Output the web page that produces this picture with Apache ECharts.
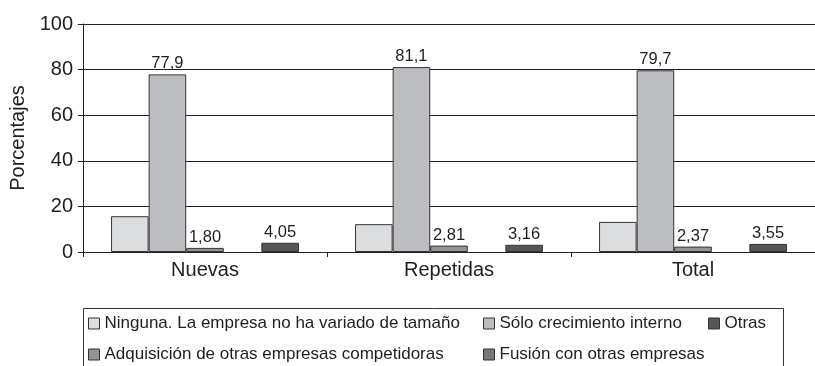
<!DOCTYPE html>
<html>
<head>
<meta charset="utf-8">
<script src="https://cdn.jsdelivr.net/npm/echarts@6/dist/echarts.min.js"></script>
<style>
  html, body { margin: 0; padding: 0; background: #fff; }
  #chart { width: 815px; height: 366px; }
</style>
</head>
<body>
<div id="chart"></div>
<script>
// Categories and series values (percentages)
const categories = ['Nuevas', 'Repetidas', 'Total'];
const ninguna = [15.7, 12.2, 13.2];
const soloCrecimiento = [77.9, 81.1, 79.7];
const adquisicion = [1.80, 2.81, 2.37];
const fusion = [null, null, null];
const otras = [4.05, 3.16, 3.55];
const yTicks = [0, 20, 40, 60, 80, 100];

const names = {
  ninguna: 'Ninguna. La empresa no ha variado de tamaño',
  solo: 'Sólo crecimiento interno',
  adq: 'Adquisición de otras empresas competidoras',
  fusion: 'Fusión con otras empresas',
  otras: 'Otras'
};

const font = '"Liberation Sans", Arial, sans-serif';

function labelFor(digits) {
  return {
    show: true,
    position: 'top',
    distance: 2,
    color: '#1e1e1e',
    fontFamily: font,
    fontSize: 16.5,
    formatter: p => p.value == null ? '' : Number(p.value).toFixed(digits).replace('.', ',')
  };
}

function barSeries(name, data, color, label) {
  return {
    name: name,
    type: 'bar',
    data: data,
    barGap: '0%',
    barCategoryGap: '23%',
    itemStyle: { color: color, borderColor: '#333', borderWidth: 1 },
    label: label || { show: false },
    emphasis: { disabled: true }
  };
}

function legendAt(name, left, top) {
  return {
    data: [name],
    left: left,
    top: top,
    padding: 0,
    itemWidth: 11,
    itemHeight: 11,
    itemGap: 0,
    icon: 'rect',
    itemStyle: { borderColor: '#333', borderWidth: 1 },
    textStyle: { color: '#1e1e1e', fontFamily: font, fontSize: 17, padding: [0, 0, 0, 0] },
    selectedMode: false
  };
}

const chart = echarts.init(document.getElementById('chart'), null, { renderer: 'canvas' });
chart.setOption({
  backgroundColor: '#fff',
  animation: false,
  grid: { left: 83, top: 24, width: 744, height: 228, containLabel: false },
  xAxis: {
    type: 'category',
    data: categories,
    axisLine: { lineStyle: { color: '#222', width: 1 } },
    axisTick: { show: true, length: 5, lineStyle: { color: '#222' } },
    axisLabel: { color: '#1e1e1e', fontFamily: font, fontSize: 20, margin: 8 }
  },
  yAxis: {
    type: 'value',
    min: yTicks[0],
    max: yTicks[yTicks.length - 1],
    interval: yTicks[1] - yTicks[0],
    name: 'Porcentajes',
    nameLocation: 'middle',
    nameGap: 53,
    nameRotate: 90,
    nameTextStyle: { color: '#1e1e1e', fontFamily: font, fontSize: 20 },
    axisLine: { show: true, lineStyle: { color: '#222', width: 1 } },
    axisTick: { show: true, length: 5, lineStyle: { color: '#222' } },
    axisLabel: { color: '#1e1e1e', fontFamily: font, fontSize: 20, margin: 10 },
    splitLine: { show: true, lineStyle: { color: '#222', width: 1 } }
  },
  legend: [
    legendAt(names.ninguna, 88, 315),
    legendAt(names.adq, 88, 346),
    legendAt(names.solo, 483, 315),
    legendAt(names.fusion, 483, 346),
    legendAt(names.otras, 708, 315)
  ],
  graphic: [{
    type: 'rect',
    silent: true,
    shape: { x: 83.5, y: 308.5, width: 700, height: 80 },
    style: { fill: 'none', stroke: '#333', lineWidth: 1 }
  }],
  series: [
    barSeries(names.ninguna, ninguna, '#dcdddf'),
    barSeries(names.solo, soloCrecimiento, '#bcbdc0', labelFor(1)),
    barSeries(names.adq, adquisicion, '#939496', labelFor(2)),
    barSeries(names.fusion, fusion, '#78787a'),
    barSeries(names.otras, otras, '#565658', labelFor(2))
  ]
});
</script>
</body>
</html>
